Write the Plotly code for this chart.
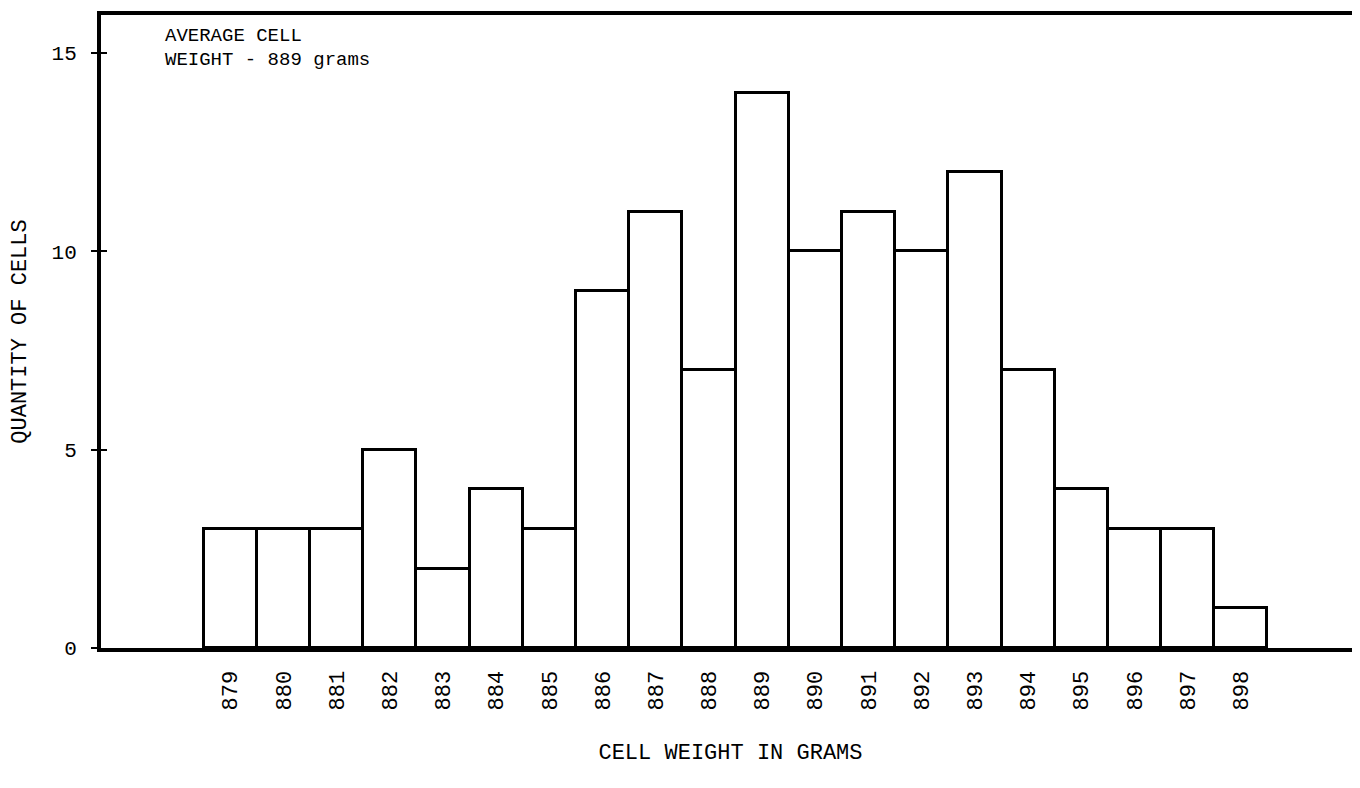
import plotly.graph_objects as go

weights = [879, 880, 881, 882, 883, 884, 885, 886, 887, 888,
           889, 890, 891, 892, 893, 894, 895, 896, 897, 898]
counts = [3, 3, 3, 5, 2, 4, 3, 9, 11, 7,
          14, 10, 11, 10, 12, 7, 4, 3, 3, 1]
y_ticks = [0, 5, 10, 15]

FONT = "Liberation Mono, Courier New, monospace"

fig = go.Figure()
fig.add_trace(go.Bar(
    x=weights, y=counts, width=1,
    marker=dict(color="white", line=dict(color="black", width=3)),
    showlegend=False, hoverinfo="x+y",
))
# invisible helper trace so the inside-tick overlay axis is drawn
fig.add_trace(go.Scatter(
    x=[weights[0]], y=[y_ticks[0]], yaxis="y2", mode="markers",
    marker=dict(opacity=0), showlegend=False, hoverinfo="skip",
))

fig.update_layout(
    width=1352, height=780,
    margin=dict(l=88, r=0, t=7, b=140),
    paper_bgcolor="white", plot_bgcolor="white",
    font=dict(family=FONT, size=20, color="black"),
    bargap=0,
    xaxis=dict(
        range=[876.57, 900.24],
        tickmode="array", tickvals=weights, ticktext=[str(w) for w in weights],
        tickangle=-90, ticks="", ticklabelstandoff=10,
        showgrid=False, zeroline=False,
        showline=True, linecolor="black", linewidth=4, mirror=True,
        tickfont=dict(family=FONT, size=22),
        title=dict(text="CELL WEIGHT IN GRAMS", standoff=35,
                   font=dict(family=FONT, size=22)),
    ),
    yaxis=dict(
        range=[0, 15.96],
        tickmode="array", tickvals=y_ticks,
        ticks="outside", ticklen=6, tickwidth=2, tickcolor="black",
        ticklabelstandoff=10,
        showgrid=False, zeroline=False,
        showline=True, linecolor="black", linewidth=4,
        tickfont=dict(family=FONT, size=21),
        title=dict(text="QUANTITY OF CELLS", standoff=28,
                   font=dict(family=FONT, size=22)),
    ),
    yaxis2=dict(
        range=[0, 15.96], overlaying="y", side="left",
        tickmode="array", tickvals=y_ticks,
        ticks="inside", ticklen=6, tickwidth=2, tickcolor="black",
        showticklabels=False, showgrid=False, zeroline=False, showline=False,
    ),
    annotations=[
        dict(text="AVERAGE CELL", xref="paper", yref="paper",
             x=0.049, y=0.9668, xanchor="left", yanchor="middle",
             showarrow=False, font=dict(family=FONT, size=19, color="black")),
        dict(text="WEIGHT - 889 grams", xref="paper", yref="paper",
             x=0.049, y=0.9289, xanchor="left", yanchor="middle",
             showarrow=False, font=dict(family=FONT, size=19, color="black")),
    ],
)

fig.write_html("out.html")
